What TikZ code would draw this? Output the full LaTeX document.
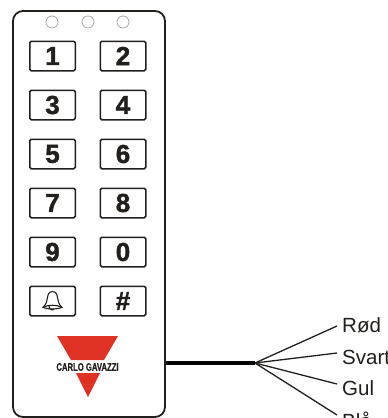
\documentclass[tikz,border=0pt]{standalone}
\usepackage{fontspec}
\usepackage{graphicx}
\setmainfont{Liberation Sans}
\definecolor{keyline}{HTML}{231F1C}
\definecolor{ledgray}{HTML}{A9A9A9}
\definecolor{cgred}{HTML}{E03224}
\tikzset{
  keybox/.style={draw=keyline,line width=1.5pt,rounded corners=1.5pt,minimum width=45.5pt,minimum height=29.5pt,inner sep=0pt,font=\fontsize{26}{26}\selectfont\bfseries\addfontfeature{FakeBold=1.5},text=keyline},
  led/.style={circle,draw=ledgray,line width=.8pt,minimum size=12pt,inner sep=0pt},
  housing/.style={draw=keyline,line width=1.8pt,rounded corners=10pt,minimum width=152pt,minimum height=406pt,inner sep=0pt},
  wirelabel/.style={anchor=west,inner sep=0pt,font=\fontsize{20.5}{21}\selectfont,text=keyline},
  wire/.style={draw=keyline,line width=1.3pt},
  cable/.style={draw=black!90!keyline,line width=3.4pt}
}
\begin{document}
\begin{tikzpicture}[x=1pt,y=-1pt]
\useasboundingbox (0,0) rectangle (388,418);
\clip (0,0) rectangle (388,418);
\fill[white] (0,0) rectangle (388,418);
\node[housing] (body) at (89,214) {};
\node[led] (l1) at (52,22) {};
\node[led] (l2) at (88,22) {};
\node[led] (l3) at (123,22) {};
\node[keybox] (k1) at (52.5,56) {1};
\node[keybox] (k2) at (123,56) {2};
\node[keybox] (k3) at (52.5,105) {3};
\node[keybox] (k4) at (123,105) {4};
\node[keybox] (k5) at (52.5,154) {5};
\node[keybox] (k6) at (123,154) {6};
\node[keybox] (k7) at (52.5,203) {7};
\node[keybox] (k8) at (123,203) {8};
\node[keybox] (k9) at (52.5,252) {9};
\node[keybox] (k0) at (123,252) {0};
\node[keybox] (kb) at (52.5,301) {};
\node[keybox] (kh) at (123,301) {\#};
% bell
\begin{scope}[shift={(kb.center)},draw=keyline,line width=1.1pt]
  \draw (-9.5,6.5) .. controls (-6,3) and (-5.5,0) .. (-5,-3.5)
        .. controls (-4.5,-9) and (-1.5,-9.5) .. (0,-9.5)
        .. controls (1.5,-9.5) and (4.5,-9) .. (5,-3.5)
        .. controls (5.5,0) and (6,3) .. (9.5,6.5)
        .. controls (5,8.5) and (-5,8.5) .. (-9.5,6.5) -- cycle;
  \draw (-9.5,6.5) .. controls (-5,3.5) and (5,3.5) .. (9.5,6.5);
  \draw (-3.5,4.8) .. controls (-3.5,9.5) and (1,9.5) .. (1.5,7.8);
\end{scope}
% logo
\fill[cgred] (57,336) -- (118,336) -- (104,360) -- (71,360) -- cycle;
\fill[cgred] (76,373) -- (100,373) -- (88,397) -- cycle;
\node[inner sep=0pt,text=keyline] (logo) at (87.5,367) {\scalebox{.7}[1]{\fontsize{11}{11}\selectfont\bfseries\addfontfeature{FakeBold=.6}CARLO GAVAZZI}};
% wires
\coordinate (joint) at (255,363);
\node[wirelabel] (rod) at (342,325) {Rød};
\node[wirelabel] (svart) at (342,357) {Svart};
\node[wirelabel] (gul) at (342,388) {Gul};
\node[wirelabel] (bla) at (342,420) {Blå};
\draw[cable] (body.east |- joint) -- (joint);
\draw[wire] (joint) -- ([shift={(-5,1)}]rod.west);
\draw[wire] (joint) -- ([shift={(-5,-4)}]svart.west);
\draw[wire] (joint) -- ([shift={(-5,-4)}]gul.west);
\draw[wire] (joint) -- ([shift={(-5,-5)}]bla.west);
\end{tikzpicture}
\end{document}
